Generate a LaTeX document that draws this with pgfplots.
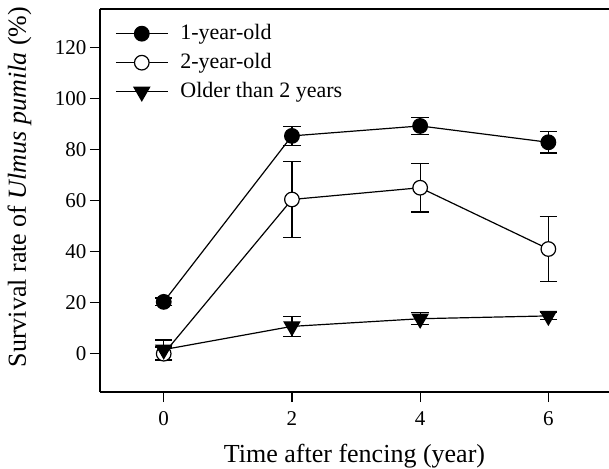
\documentclass[border=0pt]{standalone}
\usepackage{fontspec}
\setmainfont{Liberation Serif}
\usepackage{pgfplots}
\pgfplotsset{compat=1.18}
\begin{document}
\begin{tikzpicture}
\begin{axis}[
  name=ax,
  scale only axis,
  width=509bp, height=383bp,
  xmin=-0.994, xmax=6.946,
  ymin=-15, ymax=135,
  axis x line=box, axis y line=left,
  axis line style={-, line width=1.2bp, black},
  xtick={0,2,4,6}, ytick={0,20,40,60,80,100,120},
  xtick pos=left, ytick pos=left,
  tick align=outside,
  major tick length=10bp,
  tick style={line width=1.2bp, black},
  /pgf/number format/assume math mode=true,
  ticklabel style={font=\fontsize{21bp}{24bp}\selectfont},
  xticklabel style={yshift=-6bp},
  label style={font=\fontsize{26bp}{30bp}\selectfont},
  xlabel={Time after fencing (year)},
  xlabel style={at={(rel axis cs:0.5,0)}, anchor=base, yshift=-70.7bp},
  ylabel={Survival rate of \textit{Ulmus pumila} (\%)},
  ylabel style={at={(rel axis cs:-0.1454,0.535)}, anchor=base},
  legend style={draw=none, fill=none, at={(rel axis cs:0,1)}, anchor=north west,
    xshift=12bp, yshift=-10bp,
    font=\fontsize{22bp}{26bp}\selectfont,
    nodes={inner sep=2bp, text height=16bp, text depth=5bp},
    row sep=4bp,
    /tikz/every odd column/.append style={column sep=10bp}},
  legend cell align=left,
  legend image code/.code={\draw[mark repeat=2,mark phase=2] plot coordinates {(0bp,0bp) (26bp,0bp) (52bp,0bp)};},
]
\addplot[black, line width=1.2bp, mark=*, mark size=7.3bp, mark options={fill=black, solid},
  error bars/.cd, y dir=both, y explicit,
  error bar style={line width=1.2bp, black},
  error mark options={rotate=90, mark size=8.7bp, line width=1.2bp, black}]
  coordinates {(0,20.3) +- (0,1.5) (2,85.3) +- (0,3.7) (4,89.2) +- (0,3.2) (6,82.8) +- (0,4.2)};
\addlegendentry{1-year-old}
\addplot[black, line width=1.2bp, mark=*, mark size=7.3bp, mark options={fill=white, solid},
  error bars/.cd, y dir=both, y explicit,
  error bar style={line width=1.2bp, black},
  error mark options={rotate=90, mark size=8.7bp, line width=1.2bp, black}]
  coordinates {(0,0) +- (0,2.6) (2,60.4) +- (0,15) (4,65) +- (0,9.5) (6,41) +- (0,12.6)};
\addlegendentry{2-year-old}
\addplot[black, line width=1.2bp, mark=triangle*, mark size=9bp, mark options={fill=black, solid, rotate=180},
  error bars/.cd, y dir=both, y explicit,
  error bar style={line width=1.2bp, black},
  error mark options={rotate=90, mark size=8.7bp, line width=1.2bp, black}]
  coordinates {(0,1.6) +- (0,3.8) (2,10.7) +- (0,4) (4,13.7) +- (0,2.3) (6,14.8) +- (0,1.5)};
\addlegendentry{Older than 2 years}
\coordinate (bl) at (rel axis cs:0,0);
\coordinate (tr) at (rel axis cs:1,1);
\end{axis}
\pgfresetboundingbox
\path[use as bounding box] ([shift={(-100bp,-77bp)}]bl) rectangle ([shift={(0bp,9bp)}]tr);
\end{tikzpicture}
\end{document}
